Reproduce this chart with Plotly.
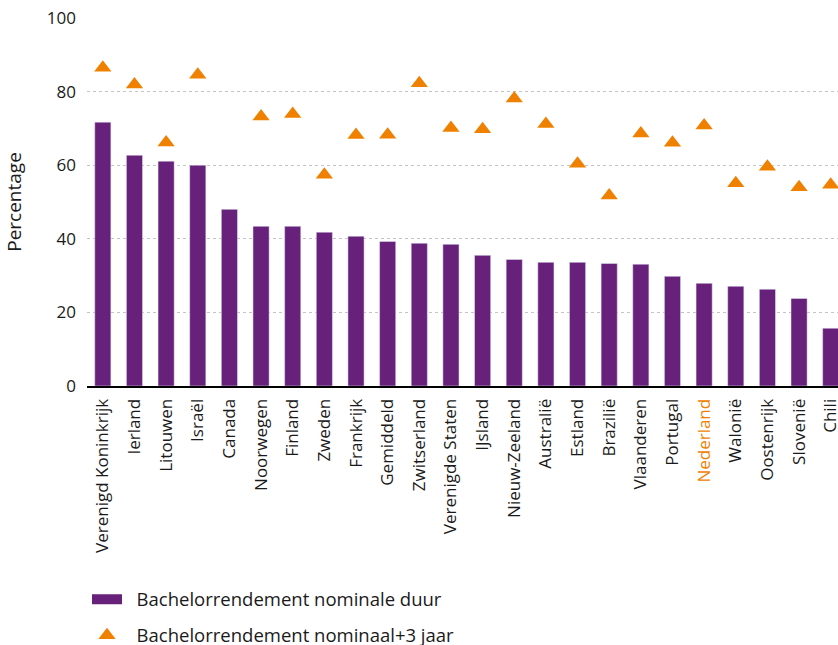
import plotly.graph_objects as go

# Landen en gemiddelde, gesorteerd op rendement nominale duur
landen = [
    "Verenigd Koninkrijk", "Ierland", "Litouwen", "Israël", "Canada",
    "Noorwegen", "Finland", "Zweden", "Frankrijk", "Gemiddeld",
    "Zwitserland", "Verenigde Staten", "IJsland", "Nieuw-Zeeland", "Australië",
    "Estland", "Brazilië", "Vlaanderen", "Portugal", "Nederland",
    "Walonië", "Oostenrijk", "Slovenië", "Chili",
]

# Bachelorrendement nominale duur (%)
nominale_duur = [
    71.7, 62.7, 61.1, 60.0, 48.0,
    43.4, 43.4, 41.8, 40.7, 39.3,
    38.8, 38.5, 35.5, 34.4, 33.6,
    33.6, 33.3, 33.1, 29.8, 27.9,
    27.1, 26.3, 23.8, 15.7,
]

# Bachelorrendement nominaal + 3 jaar (%)
nominaal_plus3 = [
    86.5, 81.9, 66.2, 84.6, None,
    73.2, 73.9, 57.4, 68.2, 68.3,
    82.3, 70.1, 69.8, 78.1, 71.2,
    60.4, 51.8, 68.6, 66.1, 70.8,
    55.1, 59.6, 54.0, 54.7,
]

PAARS = "#68217A"
ORANJE = "#F08100"
FONT = "Open Sans"

x_idx = list(range(len(landen)))
tick_text = [
    f'<span style="color:{ORANJE}">{l}</span>' if l == "Nederland" else l
    for l in landen
]

fig = go.Figure()

fig.add_trace(go.Bar(
    x=x_idx,
    y=nominale_duur,
    marker_color=PAARS,
    showlegend=False,
    name="Bachelorrendement nominale duur",
))

# legend entry with a wide bar-like symbol
fig.add_trace(go.Scatter(
    x=[None], y=[None],
    mode="lines",
    line=dict(color=PAARS, width=12),
    name="&nbsp;&nbsp;Bachelorrendement nominale duur",
    legendgroup="a",
))

fig.add_trace(go.Scatter(
    x=x_idx,
    y=nominaal_plus3,
    mode="markers",
    marker=dict(symbol="triangle-up", size=15, color=ORANJE),
    name="&nbsp;&nbsp;Bachelorrendement nominaal+3 jaar",
    legendgroup="b",
    cliponaxis=False,
))

# figure is a bit taller than the window; the page is clipped at 645 px
fig.update_layout(
    width=838,
    height=656,
    margin=dict(l=87, r=0, t=18, b=270),
    plot_bgcolor="white",
    paper_bgcolor="white",
    font=dict(family=FONT, size=16, color="#1a1a1a"),
    bargap=0.49,
    showlegend=True,
    legend=dict(
        orientation="v",
        x=0.0, xanchor="left",
        y=-0.529, yanchor="top",
        font=dict(size=18.5),
        itemwidth=30,
        tracegroupgap=9,
        bgcolor="rgba(0,0,0,0)",
    ),
)

fig.update_xaxes(
    range=[-0.5, 23.23],
    tickmode="array",
    tickvals=x_idx,
    ticktext=tick_text,
    tickangle=-90,
    tickfont=dict(size=17),
    showgrid=False,
    showline=True,
    linecolor="black",
    linewidth=2,
    ticks="",
    ticklabelstandoff=4,
    ticklabeloverflow="allow",
    automargin=False,
)

fig.update_yaxes(
    range=[0, 100],
    tickvals=[0, 20, 40, 60, 80, 100],
    tickfont=dict(size=17),
    showgrid=True,
    gridcolor="#c4c4c4",
    griddash="dot",
    gridwidth=1,
    zeroline=False,
    ticklabelstandoff=10,
    automargin=False,
    title=dict(text="Percentage", font=dict(size=19), standoff=20),
)

fig.write_html(
    "out.html",
    config={"displayModeBar": False},
    post_script="document.body.style.margin='0'; document.body.style.overflow='hidden';",
)
